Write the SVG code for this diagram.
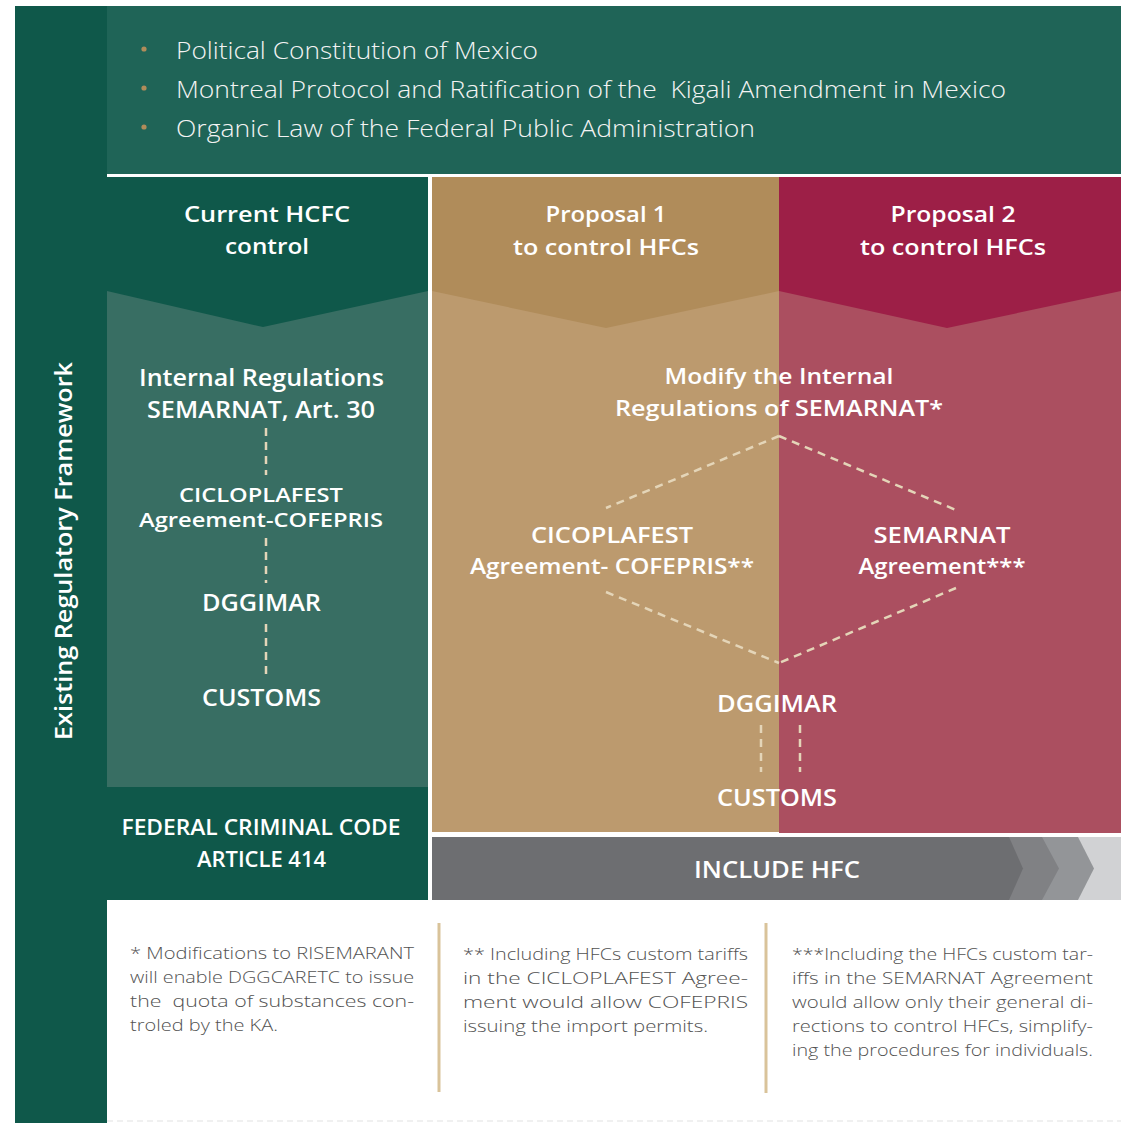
<svg xmlns="http://www.w3.org/2000/svg" width="1121" height="1123" viewBox="0 0 1121 1123">
  <style>
    text { font-family: "Open Sans", "Liberation Sans", sans-serif; }
    .hd { font-weight: 600; fill: #ffffff; text-anchor: middle; }
    .lt { font-weight: 300; fill: #f3f3f3; font-size: 24px; }
    .fn { font-weight: 300; fill: #525252; }
    .dash { stroke: #e4d5b8; stroke-width: 2.5; stroke-dasharray: 8 6; fill: none; }
    .rule { stroke: #d9c39a; stroke-width: 3; }
  </style>

  <rect width="1121" height="1123" fill="#ffffff"/>

  <!-- side band -->
  <g id="framework-band">
    <rect x="15" y="6" width="92" height="1117" fill="#0f584a"/>
    <text class="hd" font-size="23" textLength="378" lengthAdjust="spacingAndGlyphs" transform="translate(72,551) rotate(-90)">Existing Regulatory Framework</text>
  </g>

  <!-- top band of laws -->
  <g id="laws">
    <rect x="107" y="6" width="1014" height="168" fill="#1f6457"/>
    <circle cx="144" cy="49" r="2.6" fill="#b08c5a"/>
    <circle cx="144" cy="88" r="2.6" fill="#b08c5a"/>
    <circle cx="144" cy="127" r="2.6" fill="#b08c5a"/>
    <text class="lt" x="176" y="59" textLength="362" lengthAdjust="spacingAndGlyphs">Political Constitution of Mexico</text>
    <text class="lt" x="176" y="98" textLength="830" lengthAdjust="spacingAndGlyphs" style="white-space:pre">Montreal Protocol and Ratification of the  Kigali Amendment in Mexico</text>
    <text class="lt" x="176" y="137" textLength="579" lengthAdjust="spacingAndGlyphs">Organic Law of the Federal Public Administration</text>
  </g>

  <!-- current HCFC control column -->
  <g id="current-hcfc">
    <rect x="107" y="291" width="321" height="496" fill="#386e63"/>
    <polygon points="107,177 428,177 428,291 263,327 107,291" fill="#0f584a"/>
    <text class="hd" x="267" y="222" font-size="22" textLength="166" lengthAdjust="spacingAndGlyphs">Current HCFC</text>
    <text class="hd" x="267" y="254" font-size="22" textLength="84" lengthAdjust="spacingAndGlyphs">control</text>
  </g>
  <g id="internal-regulations">
    <text class="hd" x="261.5" y="386" font-size="22.5" textLength="245" lengthAdjust="spacingAndGlyphs">Internal Regulations</text>
    <text class="hd" x="261" y="418" font-size="22.5" textLength="228" lengthAdjust="spacingAndGlyphs">SEMARNAT, Art. 30</text>
  </g>
  <g id="cicloplafest-current">
    <text class="hd" x="261" y="502" font-size="20.5" textLength="164" lengthAdjust="spacingAndGlyphs">CICLOPLAFEST</text>
    <text class="hd" x="261" y="527" font-size="20.5" textLength="244" lengthAdjust="spacingAndGlyphs">Agreement-COFEPRIS</text>
  </g>
  <g id="dggimar-current">
    <text class="hd" x="261.5" y="611" font-size="23" textLength="119" lengthAdjust="spacingAndGlyphs">DGGIMAR</text>
  </g>
  <g id="customs-current">
    <text class="hd" x="261.5" y="706" font-size="23" textLength="119" lengthAdjust="spacingAndGlyphs">CUSTOMS</text>
  </g>
  <g id="criminal-code">
    <rect x="107" y="787" width="321" height="113" fill="#0f584a"/>
    <text class="hd" x="261" y="835" font-size="21" textLength="279" lengthAdjust="spacingAndGlyphs">FEDERAL CRIMINAL CODE</text>
    <text class="hd" x="261.5" y="867" font-size="21" textLength="129" lengthAdjust="spacingAndGlyphs">ARTICLE 414</text>
  </g>

  <!-- proposal columns -->
  <g id="proposal-1">
    <rect x="432" y="291" width="347" height="541" fill="#bc9a6e"/>
    <polygon points="432,177 779,177 779,291 606,328 432,291" fill="#b08c5a"/>
    <text class="hd" x="606" y="222" font-size="22" textLength="121" lengthAdjust="spacingAndGlyphs">Proposal 1</text>
    <text class="hd" x="606" y="255" font-size="22" textLength="186" lengthAdjust="spacingAndGlyphs">to control HFCs</text>
  </g>
  <g id="proposal-2">
    <rect x="779" y="291" width="342" height="542" fill="#ab4f60"/>
    <polygon points="779,177 1121,177 1121,291 947,328 779,291" fill="#9d1f47"/>
    <text class="hd" x="953" y="222" font-size="22" textLength="125" lengthAdjust="spacingAndGlyphs">Proposal 2</text>
    <text class="hd" x="953" y="255" font-size="22" textLength="186" lengthAdjust="spacingAndGlyphs">to control HFCs</text>
  </g>
  <g id="modify-regulations">
    <text class="hd" x="779" y="384" font-size="22" textLength="229" lengthAdjust="spacingAndGlyphs">Modify the Internal</text>
    <text class="hd" x="779" y="416" font-size="22" textLength="328" lengthAdjust="spacingAndGlyphs">Regulations of SEMARNAT*</text>
  </g>
  <g id="cicoplafest-proposal">
    <text class="hd" x="612" y="543" font-size="22" textLength="162" lengthAdjust="spacingAndGlyphs">CICOPLAFEST</text>
    <text class="hd" x="612" y="574" font-size="22" textLength="284" lengthAdjust="spacingAndGlyphs">Agreement- COFEPRIS**</text>
  </g>
  <g id="semarnat-agreement">
    <text class="hd" x="942" y="543" font-size="22" textLength="137" lengthAdjust="spacingAndGlyphs">SEMARNAT</text>
    <text class="hd" x="942" y="574" font-size="22" textLength="167" lengthAdjust="spacingAndGlyphs">Agreement***</text>
  </g>
  <g id="dggimar-proposal">
    <text class="hd" x="777" y="712" font-size="23" textLength="120" lengthAdjust="spacingAndGlyphs">DGGIMAR</text>
  </g>
  <g id="customs-proposal">
    <text class="hd" x="777" y="806" font-size="23" textLength="120" lengthAdjust="spacingAndGlyphs">CUSTOMS</text>
  </g>

  <!-- include HFC arrow bar -->
  <g id="include-hfc">
    <rect x="432" y="837" width="689" height="63" fill="#d1d2d4"/>
    <polygon points="432,837 1078,837 1094,868.5 1078,900 432,900" fill="#939598"/>
    <polygon points="432,837 1042,837 1059,868.5 1042,900 432,900" fill="#808184"/>
    <polygon points="432,837 1009,837 1023,868.5 1009,900 432,900" fill="#6d6e71"/>
    <text class="hd" x="777" y="878" font-size="24" textLength="166" lengthAdjust="spacingAndGlyphs">INCLUDE HFC</text>
  </g>

  <!-- connectors -->
  <g id="connectors" class="dash">
    <line x1="266" y1="428" x2="266" y2="475"/>
    <line x1="266" y1="538" x2="266" y2="583"/>
    <line x1="266" y1="624" x2="266" y2="675"/>
    <line x1="779" y1="436" x2="606" y2="508"/>
    <line x1="779" y1="436" x2="956" y2="510"/>
    <line x1="606" y1="592" x2="779" y2="663"/>
    <line x1="956" y1="588" x2="779" y2="663"/>
    <line x1="761" y1="725" x2="761" y2="772"/>
    <line x1="800" y1="725" x2="800" y2="772"/>
  </g>

  <!-- footnotes -->
  <g id="footnotes">
    <line class="rule" x1="439" y1="923" x2="439" y2="1092"/>
    <line class="rule" x1="766" y1="923" x2="766" y2="1093"/>
    <g font-size="17">
      <text class="fn" x="130" y="959" textLength="284" lengthAdjust="spacingAndGlyphs">* Modifications to RISEMARANT</text>
      <text class="fn" x="130" y="983" textLength="284" lengthAdjust="spacingAndGlyphs">will enable DGGCARETC to issue</text>
      <text class="fn" x="130" y="1007" textLength="284" lengthAdjust="spacingAndGlyphs" style="white-space:pre">the  quota of substances con-</text>
      <text class="fn" x="130" y="1031" textLength="148" lengthAdjust="spacingAndGlyphs">troled by the KA.</text>
    </g>
    <g font-size="16">
      <text class="fn" x="463" y="960" textLength="285" lengthAdjust="spacingAndGlyphs">** Including HFCs custom tariffs</text>
      <text class="fn" x="463" y="984" textLength="285" lengthAdjust="spacingAndGlyphs">in the CICLOPLAFEST Agree-</text>
      <text class="fn" x="463" y="1008" textLength="285" lengthAdjust="spacingAndGlyphs">ment would allow COFEPRIS</text>
      <text class="fn" x="463" y="1032" textLength="245" lengthAdjust="spacingAndGlyphs">issuing the import permits.</text>
      <text class="fn" x="792" y="960" textLength="301" lengthAdjust="spacingAndGlyphs">***Including the HFCs custom tar-</text>
      <text class="fn" x="792" y="984" textLength="301" lengthAdjust="spacingAndGlyphs">iffs in the SEMARNAT Agreement</text>
      <text class="fn" x="792" y="1008" textLength="301" lengthAdjust="spacingAndGlyphs">would allow only their general di-</text>
      <text class="fn" x="792" y="1032" textLength="301" lengthAdjust="spacingAndGlyphs">rections to control HFCs, simplify-</text>
      <text class="fn" x="792" y="1056" textLength="301" lengthAdjust="spacingAndGlyphs">ing the procedures for individuals.</text>
    </g>
    <line x1="107" y1="1121" x2="1121" y2="1121" stroke="#ececec" stroke-width="1.5" stroke-dasharray="6 4"/>
  </g>
</svg>
